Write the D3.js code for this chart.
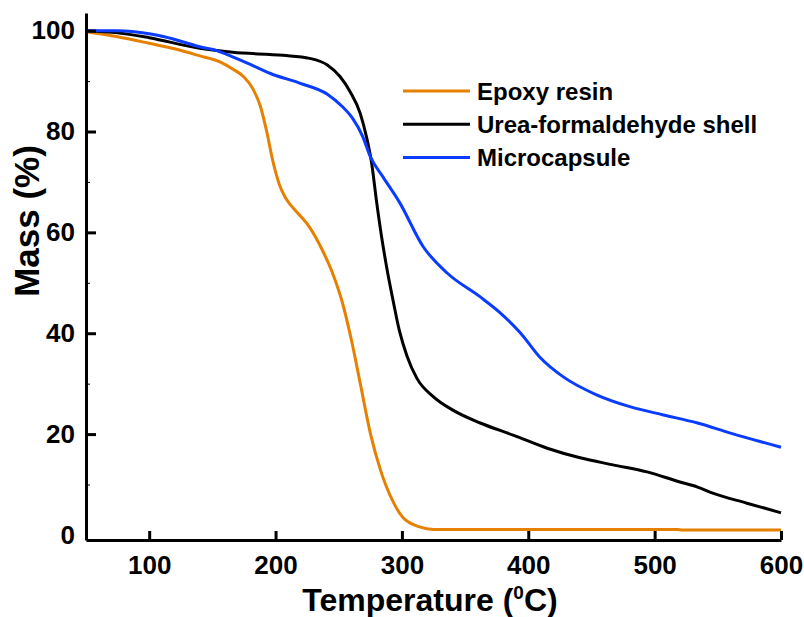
<html lang="en">
<head>
<meta charset="UTF-8">
<title>TGA curves</title>
<style>
  body { margin: 0; background: #fff; }
  text { font-family: "Liberation Sans", Arial, sans-serif; font-weight: bold; fill: #000; }
  .axis path, .axis line { stroke: #000; stroke-width: 3px; }
  .minor line { stroke: #000; stroke-width: 1px; }
  .curve { fill: none; stroke-width: 3px; stroke-linejoin: round; }
</style>
</head>
<body>
<script src="https://cdnjs.cloudflare.com/ajax/libs/d3/7.8.5/d3.min.js"></script>
<script>

var xTicks = [100, 200, 300, 400, 500, 600],
    yTicks = [0, 20, 40, 60, 80, 100],
    yMinor = [10, 30, 50, 70, 90];

var seriesNames = ["Epoxy resin", "Urea-formaldehyde shell", "Microcapsule"],
    seriesColors = ["#e68000", "#000000", "#0a3cff"];

// [temperature, mass %]
var epoxy = [
  [50, 99.8], [75, 98.8], [100, 97.5], [120, 96.4], [140, 95.0], [156, 93.8],
  [166, 92.4], [175, 90.8], [182, 88.5], [188, 85.0], [193, 80.0], [198, 74.0],
  [203, 69.5], [208, 66.8], [217, 64.0], [227, 61.0], [237, 56.5], [245, 52.0],
  [253, 46.0], [260, 38.7], [267, 30.1], [275, 20.2], [283, 12.9], [293, 6.6],
  [301, 3.4], [314, 1.6], [325, 1.1], [400, 1.1], [518, 1.1], [522, 1.0], [600, 1.0]
];

var urea = [
  [50, 100], [75, 99.6], [100, 98.6], [140, 96.5], [166, 95.7], [206, 95.1],
  [227, 94.5], [241, 93.2], [251, 90.9], [259, 87.9], [267, 83.6], [272, 78.9],
  [276, 73.8], [280, 66.0], [284, 59.0], [288, 53.0], [293, 46.5], [298, 40.5],
  [304, 35.5], [312, 31.0], [325, 27.4], [340, 24.8], [362, 22.2], [388, 19.8],
  [415, 17.2], [441, 15.3], [467, 13.9], [494, 12.5], [520, 10.5], [534, 9.5],
  [546, 8.3], [573, 6.3], [600, 4.4]
];

var micro = [
  [50, 100], [75, 100], [100, 99.4], [112, 98.8], [140, 96.8], [154, 96.0],
  [166, 94.8], [180, 93.3], [196, 91.5], [219, 89.6], [241, 87.4], [253, 84.9],
  [261, 82.6], [269, 79.0], [275, 75.0], [285, 71.0], [298, 66.0], [317, 57.1],
  [336, 51.9], [362, 47.2], [378, 44.0], [394, 40.0], [409, 35.3], [428, 31.3],
  [454, 27.8], [481, 25.4], [507, 23.8], [534, 22.2], [560, 20.2], [600, 17.4]
];

var allSeries = [epoxy, urea, micro];

var svg = d3.select("body").append("svg")
  .attr("width", 804)
  .attr("height", 617);

var x = d3.scaleLinear().domain([50, 600]).range([86, 781]),
    y = d3.scaleLinear().domain([-1, 103.5]).range([540, 13]);

var line = d3.line()
  .x(function(d){ return x(d[0]); })
  .y(function(d){ return y(d[1]); })
  .curve(d3.curveMonotoneX);

svg.selectAll(".curve")
  .data(allSeries)
  .enter()
  .append("path")
    .attr("class", "curve")
    .attr("stroke", function(d, i){ return seriesColors[i]; })
    .attr("d", line);

// minor y ticks
svg.append("g")
  .attr("class", "minor")
  .attr("transform", "translate(86,0)")
  .call(d3.axisLeft(y).tickValues(yMinor).tickSize(-4).tickFormat(""))
  .call(function(g){ g.select(".domain").remove(); });

var xAxis = svg.append("g")
  .attr("class", "axis")
  .attr("transform", "translate(0,540)")
  .call(d3.axisBottom(x).tickValues(xTicks).tickSizeInner(-9).tickSizeOuter(0).tickPadding(16));

var yAxis = svg.append("g")
  .attr("class", "axis")
  .attr("transform", "translate(86,0)")
  .call(d3.axisLeft(y).tickValues(yTicks).tickSizeInner(-10).tickSizeOuter(0).tickPadding(11));

yAxis.selectAll(".tick")
  .filter(function(d){ return d === 0; })
  .select("line").remove();

svg.selectAll(".axis text")
  .style("font-size", "26px")
  .style("font-family", "'Liberation Sans', Arial, sans-serif")
  .style("font-weight", "bold");

// axis titles
var xTitle = svg.append("text")
  .attr("x", 430)
  .attr("y", 611)
  .attr("text-anchor", "middle")
  .style("font-size", "32px");
xTitle.append("tspan").text("Temperature (");
xTitle.append("tspan").attr("dy", -12).style("font-size", "19px").text("0");
xTitle.append("tspan").attr("dy", 12).text("C)");

svg.append("text")
  .attr("transform", "translate(39,221) rotate(-90)")
  .attr("text-anchor", "middle")
  .style("font-size", "35px")
  .text("Mass (%)");

// legend
var legend = svg.selectAll(".legend")
  .data(seriesNames)
  .enter()
  .append("g")
    .attr("class", "legend")
    .attr("transform", function(d, i){
      return "translate(403," + (91 + i * 33.3) + ")";
    });

legend.append("line")
  .attr("x1", 0)
  .attr("x2", 67)
  .attr("stroke", function(d, i){ return seriesColors[i]; })
  .attr("stroke-width", 3);

legend.append("text")
  .attr("x", 74)
  .attr("dy", "0.36em")
  .style("font-size", "24px")
  .text(function(d){ return d; });

</script>
</body>
</html>
